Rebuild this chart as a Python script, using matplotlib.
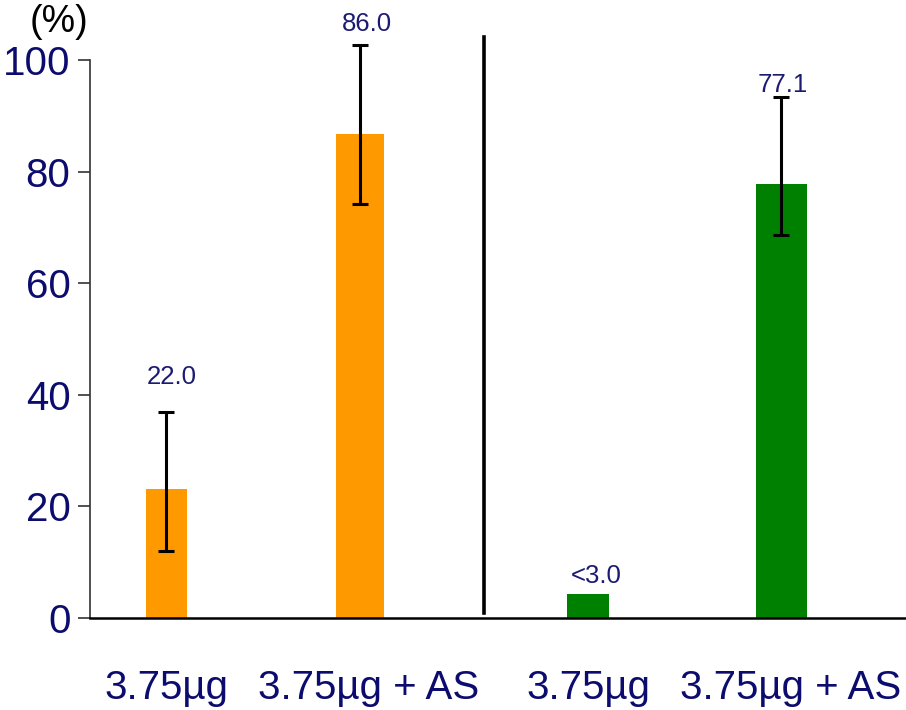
import matplotlib
matplotlib.use('Agg')
import matplotlib.pyplot as plt
import matplotlib.transforms as mtransforms
import numpy as np

# ---- data ----
categories = ['3.75µg', '3.75µg + AS', '3.75µg', '3.75µg + AS']
values = [23.1, 86.7, 4.3, 77.8]
err_low = [12.0, 74.2, np.nan, 68.6]
err_high = [36.9, 102.7, np.nan, 93.5]
value_labels = ['22.0', '86.0', '<3.0', '77.1']
yticks = [0, 20, 40, 60, 80, 100]

# ---- layout / style ----
positions = [0, 1, 2.178, 3.178]
bar_widths = [0.21, 0.245, 0.215, 0.26]
bar_colors = ['#FF9900', '#FF9900', '#008000', '#008000']
label_offsets_pt = [(4, 17), (5, 7), (6, 4), (1, 0)]  # (dx, dy) in points
xlabel_shift_px = [0, 9, 1, 9]
navy = '#0c0c6e'
label_navy = '#1b1b72'
divider_x = 1.64

fig = plt.figure(figsize=(9.06, 7.10), dpi=100)
ax = fig.add_axes([90/906, 1 - 618/710, (906 - 90)/906, (618 - 38)/710])

ax.bar(positions, values, width=bar_widths, color=bar_colors, zorder=2)

for x, v, lo, hi in zip(positions, values, err_low, err_high):
    if np.isnan(lo):
        continue
    ax.errorbar([x], [v], yerr=[[v - lo], [hi - v]], fmt='none', ecolor='black',
                elinewidth=2.2, capsize=6, capthick=2.2, zorder=3, clip_on=False)

for x, v, hi, lab, (dx, dy) in zip(positions, values, err_high, value_labels, label_offsets_pt):
    top = v if np.isnan(hi) else hi
    ax.annotate(lab, (x, top), xytext=(dx, dy), textcoords='offset points',
                ha='center', va='bottom', fontsize=18.5, color=label_navy,
                family=['Liberation Sans Narrow', 'Liberation Sans', 'DejaVu Sans'],
                annotation_clip=False)

ax.plot([divider_x, divider_x], [0.9, 104.1], color='black', lw=2.6, clip_on=False, zorder=3)

ax.set_xlim(-0.395, 3.822)
ax.set_ylim(0, 104)
ax.set_yticks(yticks)
ax.set_yticklabels([str(t) for t in yticks])
ax.set_xticks(positions)
ax.set_xticklabels(categories)

for s in ['top', 'right']:
    ax.spines[s].set_visible(False)
ax.spines['left'].set_bounds(0, 100)
ax.spines['left'].set_linewidth(1.2)
ax.spines['left'].set_color('#333333')
ax.spines['bottom'].set_linewidth(1.8)
ax.spines['bottom'].set_color('black')

ax.tick_params(axis='y', direction='out', length=9, width=1.2, color='#333333',
               labelsize=29, labelcolor=navy, pad=5)
ax.tick_params(axis='x', length=0, labelsize=29, labelcolor=navy, pad=37)
for lab in ax.get_xticklabels() + ax.get_yticklabels():
    lab.set_family(['Liberation Sans', 'DejaVu Sans'])
for lab, sh in zip(ax.get_xticklabels(), xlabel_shift_px):
    lab.set_transform(lab.get_transform() +
                      mtransforms.ScaledTranslation(sh / 100, 0, fig.dpi_scale_trans))

fig.text(59/906, 1 - 22/710, '(%)', ha='center', va='center', fontsize=27,
         color='black', family=['Liberation Sans', 'DejaVu Sans'])

fig.savefig('out.png', dpi=100)
